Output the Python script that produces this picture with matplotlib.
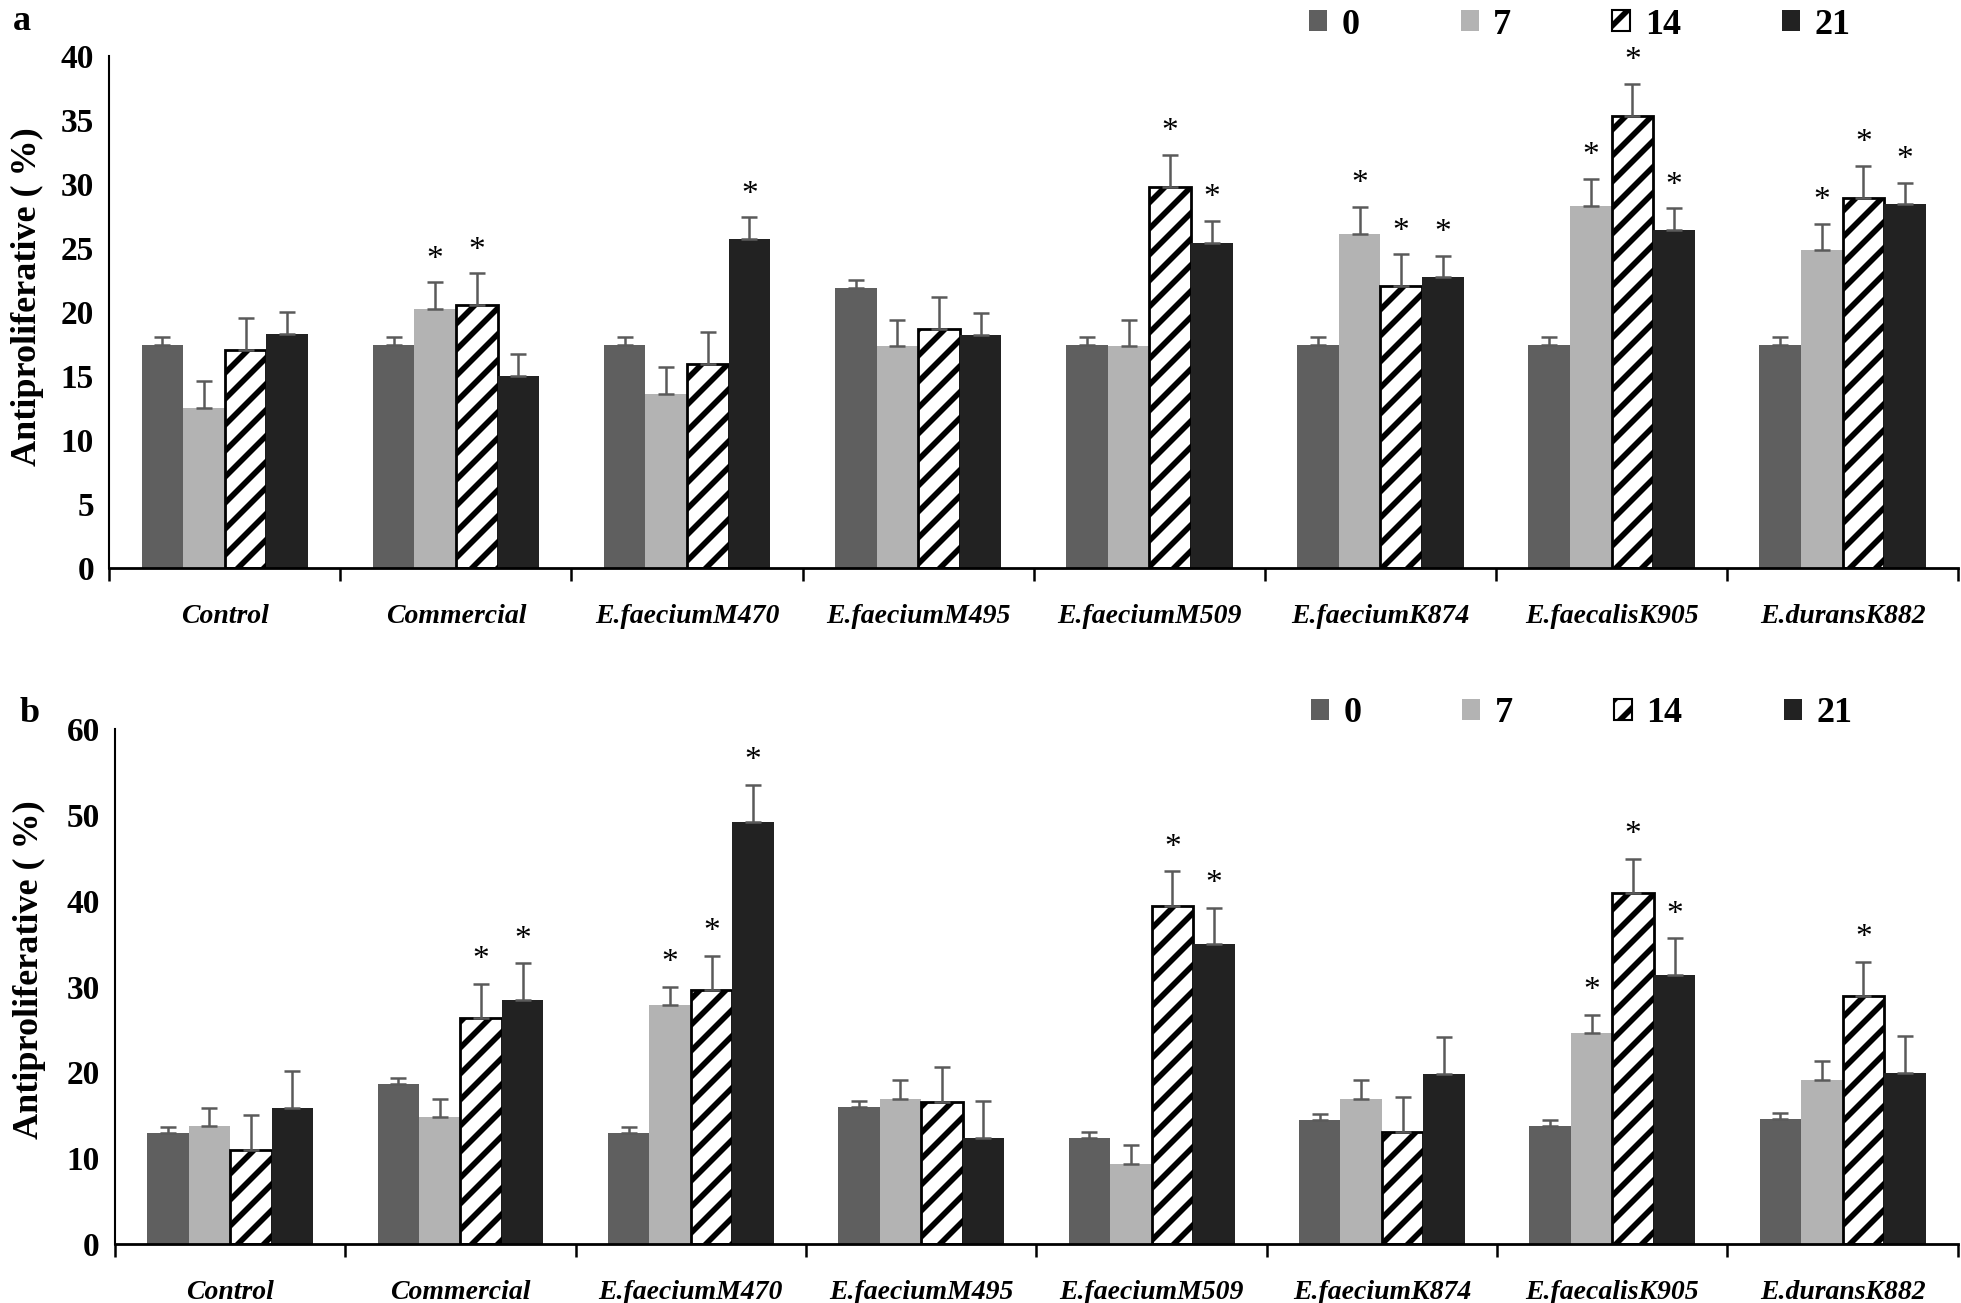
import matplotlib
matplotlib.use("Agg")
import matplotlib.pyplot as plt
import numpy as np
from matplotlib.patches import Patch

# render at a lower dpi so that the hatch tile (72 pt) gets wider stripes;
# all point sizes are scaled back up by S
DPI = 78
S = 100 / DPI

plt.rcParams['font.family'] = ['Liberation Serif', 'DejaVu Serif']
plt.rcParams['hatch.linewidth'] = 5.2

strains = ['Control', 'Commercial', 'E.faeciumM470', 'E.faeciumM495',
           'E.faeciumM509', 'E.faeciumK874', 'E.faecalisK905', 'E.duransK882']
days = ['0', '7', '14', '21']

# panel a
a_vals = {
    '0':  [17.4, 17.4, 17.4, 21.9, 17.4, 17.4, 17.4, 17.4],
    '7':  [12.5, 20.2, 13.6, 17.3, 17.3, 26.1, 28.3, 24.8],
    '14': [17.0, 20.5, 15.9, 18.7, 29.8, 22.0, 35.3, 28.9],
    '21': [18.3, 15.0, 25.7, 18.2, 25.4, 22.7, 26.4, 28.4],
}
a_err = {
    '0':  [0.6, 0.6, 0.6, 0.6, 0.6, 0.6, 0.6, 0.6],
    '7':  [2.1, 2.1, 2.1, 2.1, 2.1, 2.1, 2.1, 2.1],
    '14': [2.5, 2.5, 2.5, 2.5, 2.5, 2.5, 2.5, 2.5],
    '21': [1.7, 1.7, 1.7, 1.7, 1.7, 1.7, 1.7, 1.7],
}
a_star = {
    '0':  [0, 0, 0, 0, 0, 0, 0, 0],
    '7':  [0, 1, 0, 0, 0, 1, 1, 1],
    '14': [0, 1, 0, 0, 1, 1, 1, 1],
    '21': [0, 0, 1, 0, 1, 1, 1, 1],
}

# panel b
b_vals = {
    '0':  [12.9, 18.6, 12.9, 16.0, 12.4, 14.4, 13.8, 14.6],
    '7':  [13.7, 14.8, 27.8, 16.9, 9.3, 16.9, 24.6, 19.1],
    '14': [11.0, 26.3, 29.6, 16.6, 39.4, 13.1, 40.9, 28.9],
    '21': [15.8, 28.4, 49.2, 12.4, 34.9, 19.8, 31.3, 19.9],
}
b_err = {
    '0':  [0.7, 0.7, 0.7, 0.7, 0.7, 0.7, 0.7, 0.7],
    '7':  [2.1, 2.1, 2.2, 2.2, 2.2, 2.2, 2.1, 2.2],
    '14': [4.0, 4.0, 4.0, 4.0, 4.0, 4.0, 4.0, 4.0],
    '21': [4.3, 4.3, 4.3, 4.3, 4.3, 4.3, 4.3, 4.3],
}
b_star = {
    '0':  [0, 0, 0, 0, 0, 0, 0, 0],
    '7':  [0, 0, 1, 0, 0, 0, 1, 0],
    '14': [0, 1, 1, 0, 1, 0, 1, 1],
    '21': [0, 1, 1, 0, 1, 0, 1, 0],
}

colors = {'0': '#5f5f5f', '7': '#b3b3b3', '14': 'white', '21': '#222222'}


def draw(ax, vals, errs, stars, ymax, step, star_off, letter, ylab_pos,
         leg_y, letter_y):
    x = np.arange(len(strains))
    w = 0.18
    for i, d in enumerate(days):
        pos = x + (i - 1.5) * w
        v = np.array(vals[d])
        e = np.array(errs[d])
        if d == '14':
            ax.bar(pos, v, w, color='white', edgecolor='black', hatch='/',
                   linewidth=2 * S, zorder=2)
        else:
            ax.bar(pos, v, w, color=colors[d], edgecolor='none', zorder=2)
        ax.errorbar(pos, v, yerr=[np.zeros_like(e), e], fmt='none',
                    ecolor='#5a5a5a', elinewidth=1.8 * S, capsize=6 * S,
                    capthick=1.8 * S, zorder=3)
        for p, top, s in zip(pos, v + e, stars[d]):
            if s:
                ax.text(p, top + star_off, '*', ha='center', va='bottom',
                        fontsize=24 * S)
    ax.set_xlim(-0.5, len(strains) - 0.5)
    ax.set_ylim(0, ymax)
    ax.set_yticks(np.arange(0, ymax + 1, step))
    ax.tick_params(axis='y', length=0, labelsize=24 * S, pad=11 * S)
    for t in ax.get_yticklabels():
        t.set_fontweight('bold')
    ax.set_xticks(np.arange(len(strains) + 1) - 0.5)
    ax.set_xticklabels([])
    ax.tick_params(axis='x', which='major', length=9 * S, width=1.8 * S,
                   direction='out')
    ax.set_xticks(x, minor=True)
    ax.set_xticklabels(strains, minor=True, fontsize=20 * S, fontweight='bold',
                       fontstyle='italic')
    ax.tick_params(axis='x', which='minor', length=0, pad=26 * S)
    for sp in ['top', 'right']:
        ax.spines[sp].set_visible(False)
    ax.spines['left'].set_linewidth(1.5 * S)
    ax.spines['bottom'].set_linewidth(2 * S)
    ax.set_ylabel('Antiproliferative ( %)', fontsize=26 * S, fontweight='bold')
    ax.yaxis.set_label_coords(*ylab_pos)
    handles = [Patch(facecolor=colors['0'], edgecolor='none'),
               Patch(facecolor=colors['7'], edgecolor='none'),
               Patch(facecolor='white', edgecolor='black', hatch='/',
                     linewidth=1.5 * S),
               Patch(facecolor=colors['21'], edgecolor='none')]
    ax.legend(handles, days, ncol=4, loc='lower left',
              bbox_to_anchor=(0.641, leg_y), frameon=False,
              prop={'size': 26 * S, 'weight': 'bold'},
              handlelength=0.5, handleheight=0.5, handletextpad=0.4,
              columnspacing=2.8, borderaxespad=0)
    ax.text(-0.052, letter_y, letter, transform=ax.transAxes, fontsize=26 * S,
            fontweight='bold', ha='left', va='bottom')


fig = plt.figure(figsize=(1961 / DPI, 1303 / DPI), dpi=DPI)
ax1 = fig.add_axes([0.0557, 0.5643, 0.9429, 0.3927])
ax2 = fig.add_axes([0.0586, 0.0453, 0.9398, 0.3952])
draw(ax1, a_vals, a_err, a_star, 40, 5, 0.6, 'a', (-0.0355, 0.53), 1.0, 1.035)
draw(ax2, b_vals, b_err, b_star, 60, 10, 1.0, 'b', (-0.0375, 0.532), 0.97, 0.998)

fig.savefig('out.png', dpi=DPI)
